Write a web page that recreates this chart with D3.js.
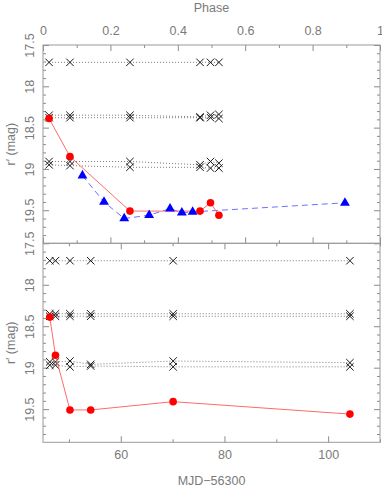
<!DOCTYPE html>
<html>
<head>
<meta charset="utf-8">
<script src="https://cdn.jsdelivr.net/npm/d3@7"></script>
<style>
  body { margin: 0; background: #fff; }
  text { font-family: "Liberation Sans", sans-serif; fill: #7a7a7a; }
</style>
</head>
<body>
<div id="container"></div>
<script>
// top panel: r' against phase
const phaseRed = [0.018, 0.080, 0.258, 0.466, 0.497, 0.522];
const magRedTop = [18.39, 18.85, 19.51, 19.51, 19.41, 19.56];
const phaseBlue = [0.117, 0.181, 0.241, 0.315, 0.377, 0.412, 0.444, 0.896];
const magBlue = [19.08, 19.40, 19.60, 19.56, 19.48, 19.53, 19.52, 19.41];
const compTop = [
  [17.71, 17.71, 17.71, 17.71, 17.71, 17.71],
  [18.35, 18.35, 18.35, 18.37, 18.35, 18.34],
  [18.38, 18.38, 18.38, 18.38, 18.38, 18.39],
  [18.91, 18.91, 18.91, 18.95, 18.91, 18.93],
  [18.95, 18.96, 18.98, 18.98, 18.99, 18.99]
];

// bottom panel: r' against MJD-56300
const mjd = [46.3, 47.4, 50.2, 54.2, 70.1, 104.2];
const magRedBot = [18.39, 18.85, 19.51, 19.51, 19.41, 19.56];
const compBot = [
  [17.71, 17.71, 17.71, 17.71, 17.71, 17.71],
  [18.35, 18.35, 18.35, 18.35, 18.35, 18.35],
  [18.38, 18.38, 18.38, 18.38, 18.38, 18.38],
  [18.93, 18.93, 18.92, 18.96, 18.92, 18.94],
  [18.97, 18.97, 18.99, 18.98, 18.99, 18.99]
];

const phaseMajor = [0, 0.2, 0.4, 0.6, 0.8, 1];
const phaseMinor = [0.1, 0.3, 0.5, 0.7, 0.9];
const mjdMajor = [60, 80, 100];
const mjdMinor = [50, 70, 90, 110];
const magMajor = [17.5, 18, 18.5, 19, 19.5];
const magMinor = [17.6, 17.7, 17.8, 17.9, 18.1, 18.2, 18.3, 18.4, 18.6, 18.7, 18.8, 18.9, 19.1, 19.2, 19.3, 19.4, 19.6, 19.7, 19.8];

const width = 382;
const height = 489;
const left = 43, right = 380;
const top1 = 45, mid = 243.3, bot2 = 442.3;

const svg = d3.select("#container").append("svg")
  .attr("width", width).attr("height", height);

const xPhase = d3.scaleLinear().domain([0, 1]).range([left, right]);
const xMjd = d3.scaleLinear().domain([45, 110]).range([left, right]);
const yTop = d3.scaleLinear().domain([17.5, 19.9]).range([top1, mid]);
const yBot = d3.scaleLinear().domain([17.5, 19.9]).range([mid, bot2]);

const fmt = (d) => String(+d.toFixed(2));

function drawAxis(axis, tx, ty) {
  const g = svg.append("g")
    .attr("transform", "translate(" + tx + "," + ty + ")")
    .call(axis);
  g.select(".domain").remove();
  g.selectAll("line").attr("stroke", "#8a8a8a");
  g.selectAll("text").style("font-size", "12.5px").attr("fill", "#7a7a7a");
  return g;
}

function yAxes(y) {
  drawAxis(d3.axisLeft(y).tickValues(magMinor).tickSize(-3).tickFormat(""), left, 0);
  const g = drawAxis(d3.axisLeft(y).tickValues(magMajor).tickSize(-6).tickFormat(fmt), left, 0);
  g.selectAll("text")
    .attr("x", 0).attr("dy", 0)
    .attr("text-anchor", "middle")
    .attr("transform", "translate(-9,0) rotate(-90)");
  drawAxis(d3.axisRight(y).tickValues(magMinor).tickSize(-3).tickFormat(""), right, 0);
  drawAxis(d3.axisRight(y).tickValues(magMajor).tickSize(-6).tickFormat(""), right, 0);
}

// top panel axes
drawAxis(d3.axisTop(xPhase).tickValues(phaseMinor).tickSize(-3).tickFormat(""), 0, top1);
drawAxis(d3.axisTop(xPhase).tickValues(phaseMajor).tickSize(-6).tickPadding(10).tickFormat(fmt), 0, top1);
drawAxis(d3.axisBottom(xPhase).tickValues(phaseMinor).tickSize(-3).tickFormat(""), 0, mid);
drawAxis(d3.axisBottom(xPhase).tickValues(phaseMajor).tickSize(-6).tickFormat(""), 0, mid);
yAxes(yTop);

// bottom panel axes
drawAxis(d3.axisTop(xMjd).tickValues(mjdMinor).tickSize(-3).tickFormat(""), 0, mid);
drawAxis(d3.axisTop(xMjd).tickValues(mjdMajor).tickSize(-6).tickFormat(""), 0, mid);
drawAxis(d3.axisBottom(xMjd).tickValues(mjdMinor).tickSize(-3).tickFormat(""), 0, bot2);
drawAxis(d3.axisBottom(xMjd).tickValues(mjdMajor).tickSize(-6).tickPadding(8).tickFormat(fmt), 0, bot2);
yAxes(yBot);

// frames
[[top1, mid], [mid, bot2]].forEach(([a, b]) => {
  svg.append("rect")
    .attr("x", left).attr("y", a)
    .attr("width", right - left).attr("height", b - a)
    .attr("fill", "none").attr("stroke", "#9a9a9a").attr("stroke-width", 1);
});

// axis titles
svg.append("text").text("Phase")
  .attr("x", (left + right) / 2).attr("y", 12)
  .attr("text-anchor", "middle").style("font-size", "12.5px");
svg.append("text").text("MJD\u221256300")
  .attr("x", (left + right) / 2).attr("y", 485)
  .attr("text-anchor", "middle").style("font-size", "12.5px");
[(top1 + mid) / 2, (mid + bot2) / 2].forEach((cy) => {
  svg.append("text").text("r\u2032 (mag)")
    .attr("text-anchor", "middle")
    .attr("transform", "translate(15," + cy + ") rotate(-90)")
    .style("font-size", "12.5px");
});

const crossPath = d3.symbol().type(d3.symbolX).size(38)();
const triPath = d3.symbol().type(d3.symbolTriangle).size(42)();

function comps(xs, comp, x, y) {
  const g = svg.append("g");
  comp.forEach((mags) => {
    const pts = xs.map((v, i) => [x(v), y(mags[i])]);
    g.append("path")
      .attr("d", d3.line()(pts))
      .attr("fill", "none").attr("stroke", "#7a7a7a")
      .attr("stroke-width", 1).attr("stroke-dasharray", "1,2");
    g.selectAll(null).data(pts).enter().append("path")
      .attr("d", crossPath)
      .attr("transform", (d) => "translate(" + d[0] + "," + d[1] + ")")
      .attr("fill", "none").attr("stroke", "#1a1a1a").attr("stroke-width", 1);
  });
}

function redSeries(xs, mags, x, y) {
  const pts = xs.map((v, i) => [x(v), y(mags[i])]);
  svg.append("path")
    .attr("d", d3.line()(pts))
    .attr("fill", "none").attr("stroke", "#ff6a6a").attr("stroke-width", 1);
  svg.append("g").selectAll("circle").data(pts).enter().append("circle")
    .attr("cx", (d) => d[0]).attr("cy", (d) => d[1]).attr("r", 3.8)
    .attr("fill", "#ff0000");
}

// top panel marks
comps(phaseRed, compTop, xPhase, yTop);
const bluePts = phaseBlue.map((p, i) => [xPhase(p), yTop(magBlue[i])]);
svg.append("path")
  .attr("d", d3.line()(bluePts))
  .attr("fill", "none").attr("stroke", "#7070ff")
  .attr("stroke-width", 1).attr("stroke-dasharray", "6,4");
redSeries(phaseRed, magRedTop, xPhase, yTop);
svg.append("g").selectAll("path").data(bluePts).enter().append("path")
  .attr("d", triPath)
  .attr("transform", (d) => "translate(" + d[0] + "," + d[1] + ")")
  .attr("fill", "#0000ff");

// bottom panel marks
comps(mjd, compBot, xMjd, yBot);
redSeries(mjd, magRedBot, xMjd, yBot);
</script>
</body>
</html>
